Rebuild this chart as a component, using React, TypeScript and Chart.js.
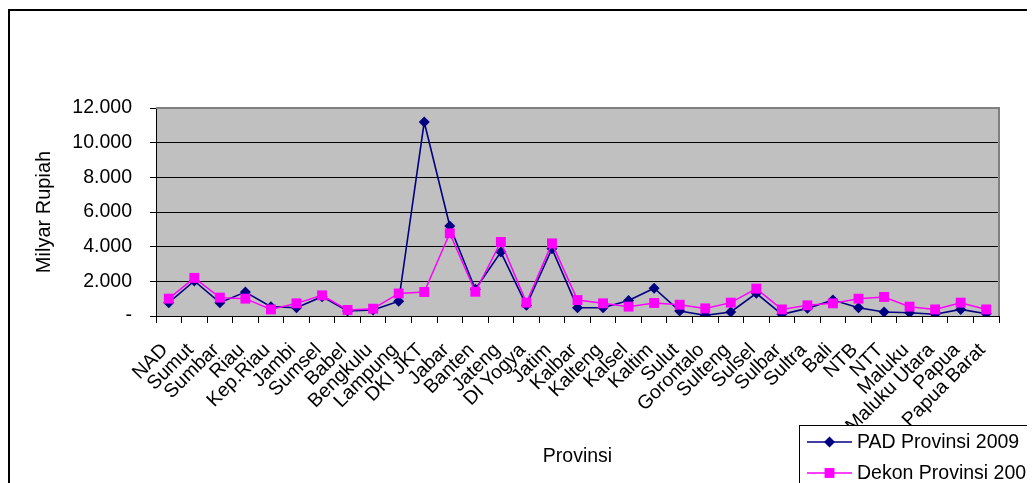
import React, { useEffect, useRef } from 'react';
import { Chart, registerables } from 'chart.js';

Chart.register(...registerables);

const provinces = ['NAD', 'Sumut', 'Sumbar', 'Riau', 'Kep.Riau', 'Jambi', 'Sumsel', 'Babel', 'Bengkulu', 'Lampung', 'DKI JKT', 'Jabar', 'Banten', 'Jateng', 'DI Yogya', 'Jatim', 'Kalbar', 'Kalteng', 'Kalsel', 'Kaltim', 'Sulut', 'Gorontalo', 'Sulteng', 'Sulsel', 'Sulbar', 'Sultra', 'Bali', 'NTB', 'NTT', 'Maluku', 'Maluku Utara', 'Papua', 'Papua Barat'];

const padValues = [770, 2020, 770, 1380, 540, 480, 1115, 290, 350, 850, 11190, 5190, 1540, 3690, 615, 3880, 480, 480, 900, 1600, 290, 40, 230, 1310, 100, 440, 920, 480, 230, 190, 100, 380, 130];

const dekonValues = [1000, 2200, 1060, 1000, 380, 730, 1190, 350, 420, 1300, 1385, 4770, 1400, 4270, 770, 4190, 920, 730, 540, 750, 650, 440, 770, 1580, 380, 615, 730, 1000, 1100, 540, 380, 770, 380];

const seriesLabels = ['PAD Provinsi 2009', 'Dekon Provinsi 2009'];
const yTickLabels = ['-', '2.000', '4.000', '6.000', '8.000', '10.000', '12.000'];

const FONT = '"Liberation Sans", Arial, sans-serif';
const FS = 19.5;
const W = 1070;
const H = 500;

const frame = {
  id: 'frame',
  beforeDraw(chart: any) {
    const { ctx, chartArea: a } = chart;
    ctx.save();
    ctx.fillStyle = '#fff';
    ctx.fillRect(0, 0, chart.width, chart.height);
    ctx.fillStyle = '#C0C0C0';
    ctx.fillRect(a.left, a.top, a.right - a.left, a.bottom - a.top);
    ctx.strokeStyle = '#000';
    ctx.lineWidth = 2;
    ctx.strokeRect(1, 2, chart.width + 10, chart.height + 10);
    ctx.restore();
  },
  beforeDatasetsDraw(chart: any) {
    const { ctx, chartArea: a } = chart;
    ctx.save();
    ctx.strokeStyle = '#808080';
    ctx.lineWidth = 2;
    ctx.beginPath();
    ctx.moveTo(a.left, a.top);
    ctx.lineTo(a.right, a.top);
    ctx.lineTo(a.right, a.bottom);
    ctx.stroke();
    ctx.restore();
  },
  afterDraw(chart: any) {
    const { ctx } = chart;
    ctx.save();
    ctx.fillStyle = '#fff';
    ctx.fillRect(791, 417, 400, 150);
    ctx.strokeStyle = '#000';
    ctx.lineWidth = 1;
    ctx.strokeRect(791.5, 417.5, 400, 150);
    chart.data.datasets.forEach((ds: any, i: number) => {
      const y = 434 + 31 * i;
      ctx.strokeStyle = ds.borderColor;
      ctx.lineWidth = 1.5;
      ctx.beginPath();
      ctx.moveTo(799, y);
      ctx.lineTo(844, y);
      ctx.stroke();
      ctx.fillStyle = ds.pointBackgroundColor;
      const cx = 821.5;
      ctx.beginPath();
      if (ds.pointStyle === 'rectRot') {
        const r = ds.pointRadius;
        ctx.moveTo(cx, y - r);
        ctx.lineTo(cx + r, y);
        ctx.lineTo(cx, y + r);
        ctx.lineTo(cx - r, y);
        ctx.closePath();
      } else {
        const s = ds.pointRadius * Math.SQRT1_2;
        ctx.rect(cx - s, y - s, 2 * s, 2 * s);
      }
      ctx.fill();
      ctx.fillStyle = '#000';
      ctx.font = `${FS}px ${FONT}`;
      ctx.textBaseline = 'middle';
      ctx.textAlign = 'left';
      ctx.fillText(ds.label, 849, y + 1);
    });
    ctx.restore();
  },
};

export default function App() {
  const ref = useRef<HTMLCanvasElement>(null);
  useEffect(() => {
    document.documentElement.style.overflow = 'hidden';
    document.body.style.overflow = 'hidden';
    const chart = new Chart(ref.current!, {
      type: 'line',
      data: {
        labels: provinces,
        datasets: [
          {
            label: seriesLabels[0],
            data: padValues,
            borderColor: '#000080',
            backgroundColor: '#000080',
            pointBackgroundColor: '#000080',
            pointBorderColor: '#000080',
            pointStyle: 'rectRot',
            pointRadius: 5.5,
            pointBorderWidth: 0,
            borderWidth: 1.6,
            tension: 0,
            order: 1,
          },
          {
            label: seriesLabels[1],
            data: dekonValues,
            borderColor: '#FF00FF',
            backgroundColor: '#FF00FF',
            pointBackgroundColor: '#FF00FF',
            pointBorderColor: '#FF00FF',
            pointStyle: 'rect',
            pointRadius: 7,
            pointBorderWidth: 0,
            borderWidth: 1.5,
            tension: 0,
            order: 0,
          },
        ],
      },
      options: {
        responsive: false,
        animation: false,
        devicePixelRatio: 1,
        layout: { padding: { top: 100, right: W - 991, left: 0, bottom: 40 } },
        plugins: { legend: { display: false }, tooltip: { enabled: false } },
        scales: {
          x: {
            offset: true,
            afterFit: (s: any) => { s.height = 152; },
            grid: { offset: true, drawOnChartArea: false, drawTicks: true, tickLength: 7, tickColor: '#000', color: '#000' },
            border: { color: '#000', width: 1 },
            ticks: {
              autoSkip: false,
              minRotation: 45,
              maxRotation: 45,
              color: '#000',
              font: { family: FONT, size: FS },
              padding: 12,
              callback: (_v: any, i: number) => provinces[i] + ' ',
            },
            title: { display: true, text: 'Provinsi', color: '#000', font: { family: FONT, size: FS }, padding: 0 },
          },
          y: {
            min: 0,
            max: 12000,
            afterFit: (s: any) => { s.width = 148; },
            grid: {
              color: (c: any) => (c.tick && c.tick.value === 12000 ? '#808080' : '#000'),
              tickColor: '#000',
              tickLength: 6,
              lineWidth: 1,
            },
            border: { color: '#000', width: 1 },
            ticks: {
              stepSize: 2000,
              color: '#000',
              padding: 18,
              font: { family: FONT, size: FS },
              callback: (v: any) => yTickLabels[Math.round(Number(v) / 2000)],
            },
            title: { display: true, text: 'Milyar Rupiah', color: '#000', font: { family: FONT, size: 20 }, padding: { top: 24, bottom: 0 } },
          },
        },
      },
      plugins: [frame],
    });
    return () => chart.destroy();
  }, []);
  return (
    <div style={{ width: 1027, height: 475, overflow: 'hidden', position: 'relative' }}>
      <canvas ref={ref} width={W} height={H} style={{ width: W, height: H, display: 'block' }} />
    </div>
  );
}
